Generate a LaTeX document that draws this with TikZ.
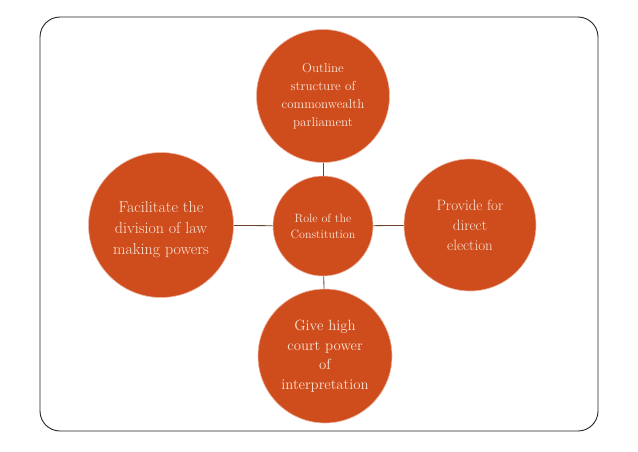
\documentclass[tikz,border=0pt]{standalone}
\definecolor{disc}{RGB}{207,76,29}
\definecolor{disctext}{RGB}{250,230,214}
\definecolor{linkcol}{RGB}{105,65,45}
\definecolor{framecol}{RGB}{35,35,35}
\begin{document}
\begin{tikzpicture}[x=1pt,y=-1pt,
  bubble/.style={circle, fill=disc, draw=disc!40!white, line width=0.6pt,
    text=disctext, align=center, inner sep=0pt},
  inner/.style={text=disctext, align=center, inner sep=0pt},
  link/.style={draw=linkcol, line width=0.8pt}]
\useasboundingbox (0,0) rectangle (638,451);
\fill[white] (0,0) rectangle (638,451);
\draw[framecol, line width=0.9pt, rounded corners=20pt] (40,17) rectangle (598,431);

\node[bubble, minimum size=100pt, font=\fontsize{12}{16}\selectfont] (c) at (323,226) {Role of the\\Constitution};
\node[bubble, minimum size=133pt, font=\fontsize{13}{18}\selectfont] (t) at (323,96) {Outline\\structure of\\commonwealth\\parliament};
\node[bubble, minimum size=145pt,
  label={[inner, font=\fontsize{16}{21}\selectfont, yshift=-5pt]center:{Facilitate the\\division of law\\making powers}}] (l) at (161,225) {};
\node[bubble, minimum size=132pt, font=\fontsize{15}{20}\selectfont] (r) at (470,225) {Provide for\\direct\\election};
\node[bubble, minimum size=134pt, font=\fontsize{14.8}{19.5}\selectfont] (b) at (325,356) {Give high\\court power\\of\\interpretation};

\draw[link] (t) -- (c);
\draw[link] (c) -- (b);
\draw[link] (l) -- (c);
\draw[link] (c) -- (r);
\end{tikzpicture}
\end{document}
